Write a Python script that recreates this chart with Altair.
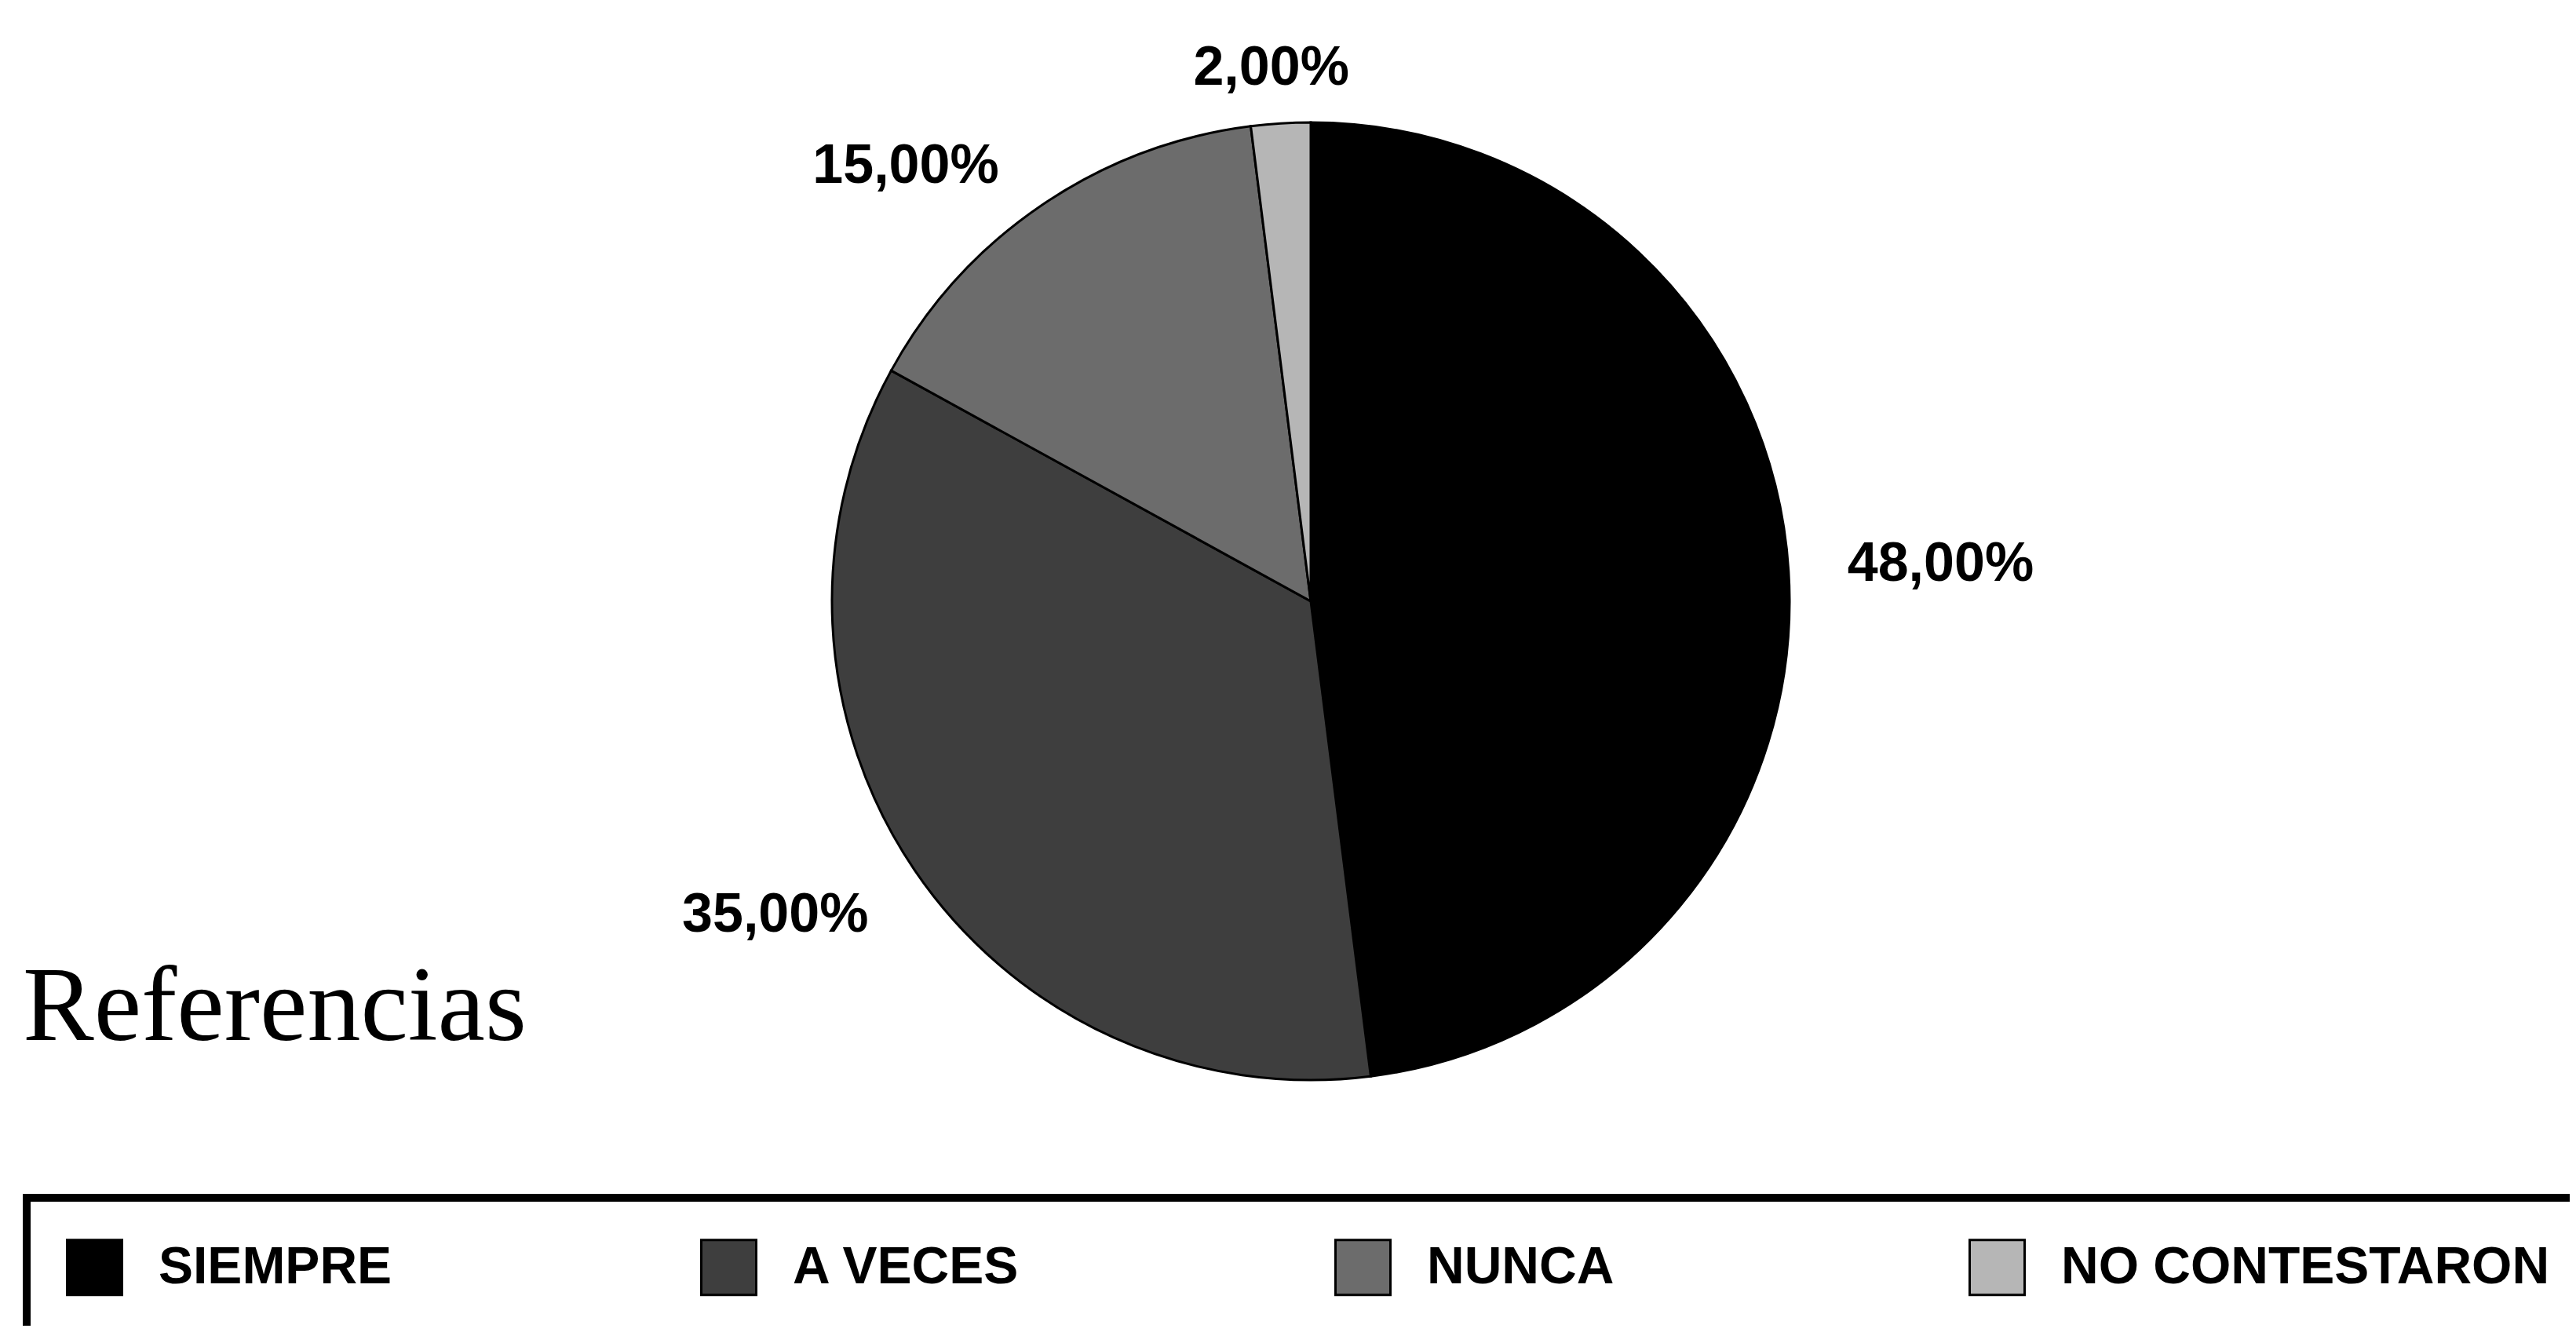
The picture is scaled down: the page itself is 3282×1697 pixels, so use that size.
import math
import altair as alt
import pandas as pd

# ---- data ----
categories = ["SIEMPRE", "A VECES", "NUNCA", "NO CONTESTARON"]
percentages = [48.0, 35.0, 15.0, 2.0]
label_texts = ["48,00%", "35,00%", "15,00%", "2,00%"]
title_text = ["Referencias"]

# ---- styling ----
fills = ["#000000", "#3e3e3e", "#6c6c6c", "#b6b6b6"]
W, H = 3266, 1681
CX, CY, R = 1662, 758, 610
SANS = "Liberation Sans"
SERIF = "Liberation Serif"
# per-label radius and nudge (pixels)
label_style = {
    "SIEMPRE": (800, 4, 3),
    "A VECES": (785, -33, -41),
    "NUNCA": (765, -86, 79),
    "NO CONTESTARON": (690, -7, 10),
}

df = pd.DataFrame({
    "cat": categories,
    "pct": percentages,
    "label": label_texts,
    "order": list(range(len(categories))),
})

base = alt.Chart(df)

color = alt.Color(
    "cat:N",
    scale=alt.Scale(domain=categories, range=fills),
    legend=alt.Legend(
        orient="none",
        legendX=76,
        legendY=1570,
        direction="horizontal",
        columns=4,
        title=None,
        symbolType="square",
        symbolSize=4900,
        symbolStrokeColor="black",
        symbolStrokeWidth=3,
        symbolOpacity=1,
        labelFont=SANS,
        labelFontSize=66,
        labelFontWeight="bold",
        labelColor="black",
        labelOffset=45,
        labelLimit=2000,
        columnPadding=62,
        gridAlign="all",
        padding=0,
    ),
)

pie = base.mark_arc(outerRadius=R, stroke="black", strokeWidth=3).encode(
    theta=alt.Theta("pct:Q", stack=True),
    color=color,
    order=alt.Order("order:Q"),
    x=alt.value(CX),
    y=alt.value(CY),
)

lab_base = (
    base.transform_window(cum="sum(pct)", sort=[alt.SortField("order")], frame=[None, 0])
    .transform_joinaggregate(total="sum(pct)")
    .transform_calculate(mid="(datum.cum - datum.pct / 2) / datum.total")
)

labels = []
for c in categories:
    r, dx, dy = label_style[c]
    labels.append(
        lab_base.transform_filter(alt.datum.cat == c)
        .mark_text(
            radius=r, dx=dx, dy=dy, font=SANS, fontSize=70, fontWeight="bold",
            color="black", align="center", baseline="middle",
        )
        .encode(
            theta=alt.Theta("mid:Q", scale=alt.Scale(domain=[0, 1], range=[0, 2 * math.pi])),
            text="label:N",
            x=alt.value(CX),
            y=alt.value(CY),
        )
    )

title_layer = alt.Chart(pd.DataFrame({"t": title_text})).mark_text(
    font=SERIF, fontSize=136, color="black", align="left", baseline="alphabetic"
).encode(text="t:N", x=alt.value(21), y=alt.value(1317))

box = alt.Chart(pd.DataFrame({"t": title_text})).mark_rect(
    fill="white", fillOpacity=0, stroke="black", strokeWidth=10
).encode(x=alt.value(26), x2=alt.value(3400), y=alt.value(1518), y2=alt.value(1800))

chart = (
    alt.layer(box, pie, *labels, title_layer)
    .properties(width=W, height=H, padding=0, autosize=alt.AutoSizeParams(type="none"),
                background="white")
    .resolve_scale(theta="independent")
    .configure_view(strokeWidth=0)
)

chart.save("out.html", embed_options={"renderer": "svg", "actions": False})
